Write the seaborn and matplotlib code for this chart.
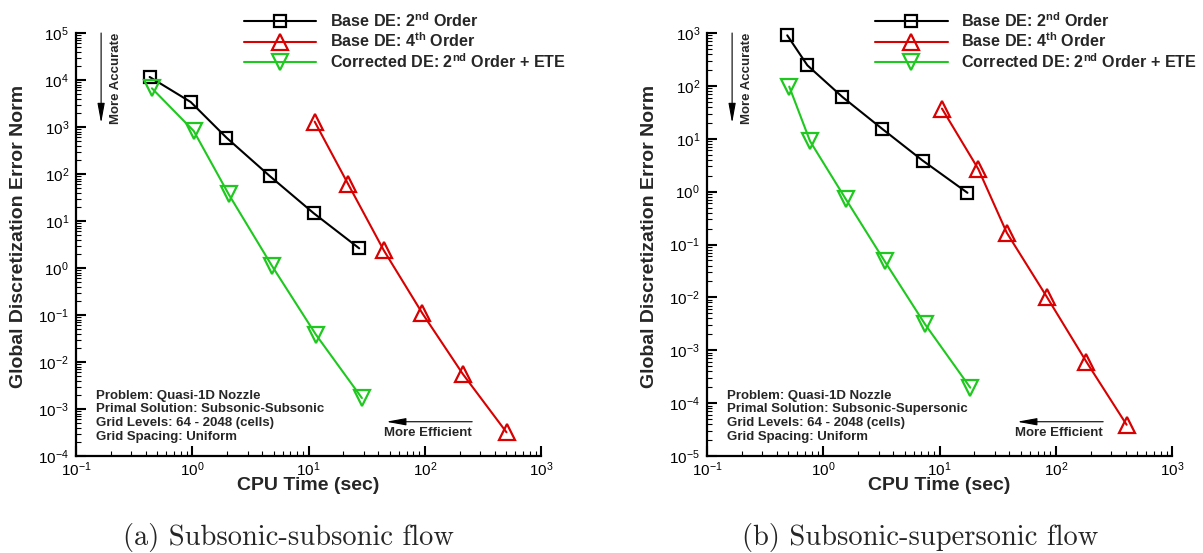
import numpy as np
import pandas as pd
import matplotlib
matplotlib.use("Agg")
import matplotlib.pyplot as plt
import seaborn as sns
from matplotlib.ticker import LogLocator, LogFormatterSciNotation, NullFormatter

sns.set_style("ticks")
plt.rcParams["font.family"] = ["Liberation Sans", "DejaVu Sans"]
plt.rcParams["mathtext.fontset"] = "custom"
plt.rcParams["mathtext.rm"] = "Liberation Sans"
plt.rcParams["mathtext.it"] = "Liberation Sans:italic"
plt.rcParams["mathtext.bf"] = "Liberation Sans:bold"

# ---------------- data ----------------
series_labels = [
    r"Base DE: $\mathbf{2^{nd}}$ Order",
    r"Base DE: $\mathbf{4^{th}}$ Order",
    r"Corrected DE: $\mathbf{2^{nd}}$ Order + ETE",
]

# (a) subsonic-subsonic
cpu_2nd_a = [0.43, 0.97, 1.97, 4.64, 11.1, 27.3]
err_2nd_a = [1.16e4, 3.4e3, 593, 90.6, 14.6, 2.62]
cpu_4th_a = [11.3, 22.0, 44.4, 95.5, 212, 505]
err_4th_a = [1.3e3, 60, 2.38, 0.108, 5.6e-3, 3.19e-4]
cpu_ete_a = [0.45, 1.03, 2.06, 4.86, 11.6, 28.8]
err_ete_a = [6.65e3, 822, 36.9, 1.1, 0.038, 1.71e-3]

# (b) subsonic-supersonic
cpu_2nd_b = [0.49, 0.73, 1.46, 3.19, 7.16, 17.4]
err_2nd_b = [904, 245, 61.8, 15.6, 3.87, 0.95]
cpu_4th_b = [10.5, 21.6, 37.9, 83.6, 183, 407]
err_4th_b = [37.2, 2.66, 0.167, 0.0103, 6.1e-4, 3.9e-5]
cpu_ete_b = [0.51, 0.77, 1.57, 3.37, 7.49, 18.4]
err_ete_b = [96.8, 8.98, 0.71, 0.0486, 3.13e-3, 1.96e-4]

xlim = (0.1, 1000)
ylim_a = (1e-4, 1e5)
ylim_b = (1e-5, 1e3)

info_a = ("Problem: Quasi-1D Nozzle\nPrimal Solution: Subsonic-Subsonic\n"
          "Grid Levels: 64 - 2048 (cells)\nGrid Spacing: Uniform")
info_b = ("Problem: Quasi-1D Nozzle\nPrimal Solution: Subsonic-Supersonic\n"
          "Grid Levels: 64 - 2048 (cells)\nGrid Spacing: Uniform")
caption_a = "(a) Subsonic-subsonic flow"
caption_b = "(b) Subsonic-supersonic flow"
xlabel = "CPU Time (sec)"
ylabel = "Global Discretization Error Norm"

# ---------------- styling ----------------
colors = ["#000000", "#d80000", "#1fc81f"]
markers = ["s", "^", "v"]
msizes = [8.5, 11, 11]

W, H = 1203, 553
fig = plt.figure(figsize=(W / 100, H / 100), dpi=100)


def panel(left_px, xs, ys, ylim, info, caption, cap_x):
    top_px, bot_px, w_px = 33, 456, 465
    ax = fig.add_axes([left_px / W, 1 - bot_px / H, w_px / W, (bot_px - top_px) / H])
    ax.set_xscale("log")
    ax.set_yscale("log")
    for x, y, c, m, ms, lab in zip(xs, ys, colors, markers, msizes, series_labels):
        df = pd.DataFrame({"cpu": x, "err": y})
        sns.lineplot(data=df, x="cpu", y="err", ax=ax, color=c, marker=m,
                     markersize=ms, markerfacecolor="none", markeredgecolor=c,
                     markeredgewidth=1.6, linewidth=1.5, estimator=None,
                     sort=False, legend=False, label=lab, clip_on=False)
    ax.set_xlim(*xlim)
    ax.set_ylim(*ylim)
    for s in ["top", "right"]:
        ax.spines[s].set_visible(False)
    for s in ["left", "bottom"]:
        ax.spines[s].set_linewidth(1.6)
        ax.spines[s].set_color("black")
    for axis in (ax.xaxis, ax.yaxis):
        axis.set_major_locator(LogLocator(base=10, numticks=30))
        axis.set_minor_locator(LogLocator(base=10, subs=np.arange(2, 10), numticks=300))
        axis.set_major_formatter(LogFormatterSciNotation())
        axis.set_minor_formatter(NullFormatter())
    ax.tick_params(which="major", direction="in", length=7.5, width=1.5,
                   labelsize=11, colors="black")
    ax.tick_params(which="minor", direction="in", length=3.8, width=0.8, colors="black")
    ax.tick_params(axis="y", which="major", pad=5)
    ax.tick_params(axis="x", which="major", pad=3)
    ax.grid(False)

    ax.set_xlabel(xlabel, fontsize=14, fontweight="bold")
    ax.set_ylabel(ylabel, fontsize=14, fontweight="bold")
    ax.xaxis.label.set_verticalalignment("center")
    ax.yaxis.label.set_verticalalignment("center")
    ax.xaxis.set_label_coords(0.5, -0.0686)
    ax.yaxis.set_label_coords(-0.1226, 0.52)

    # legend (above the axes)
    handles = ax.get_lines()[:3]
    fig.legend(handles, series_labels, loc="upper left",
               bbox_to_anchor=((left_px + 168) / W, 1 - 11 / H),
               bbox_transform=fig.transFigure, frameon=False, borderpad=0,
               borderaxespad=0, handlelength=4.5, handletextpad=0.85,
               labelspacing=0.125, prop={"weight": "bold", "size": 11.6})

    # "More Accurate"
    ax.annotate("", xy=(0.054, 0.787), xytext=(0.054, 1.0), xycoords="axes fraction",
                arrowprops=dict(arrowstyle="-|>,head_length=1.2,head_width=0.22",
                                color="black", lw=0.8, shrinkA=0, shrinkB=0,
                                mutation_scale=10))
    ax.text(0.085, 0.892, "More Accurate", transform=ax.transAxes, rotation=90,
            ha="center", va="center", fontsize=9.5, fontweight="bold")
    # "More Efficient"
    ax.annotate("", xy=(0.667, 0.081), xytext=(0.852, 0.081), xycoords="axes fraction",
                arrowprops=dict(arrowstyle="-|>,head_length=1.2,head_width=0.22",
                                color="black", lw=0.8, shrinkA=0, shrinkB=0,
                                mutation_scale=10))
    ax.text(0.757, 0.054, "More Efficient", transform=ax.transAxes,
            ha="center", va="center", fontsize=9.5, fontweight="bold")
    # info block
    ax.text(0.044, 0.094, info, transform=ax.transAxes, ha="left", va="center",
            fontsize=9.5, fontweight="bold", linespacing=1.2)
    # caption
    fig.text(cap_x / W, 1 - 537 / H, caption, family="cmr10", fontsize=20.5,
             ha="center", va="center")
    return ax


panel(76, [cpu_2nd_a, cpu_4th_a, cpu_ete_a], [err_2nd_a, err_4th_a, err_ete_a],
      ylim_a, info_a, caption_a, 288)
panel(707, [cpu_2nd_b, cpu_4th_b, cpu_ete_b], [err_2nd_b, err_4th_b, err_ete_b],
      ylim_b, info_b, caption_b, 920)

fig.savefig("out.png", dpi=100)
